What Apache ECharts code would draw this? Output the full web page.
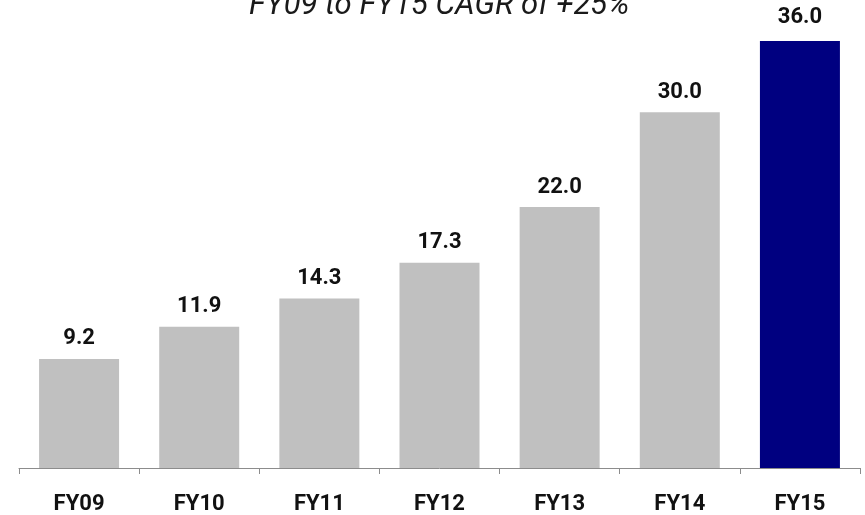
<!DOCTYPE html>
<html>
<head>
<meta charset="utf-8">
<script src="https://cdn.jsdelivr.net/npm/echarts@6/dist/echarts.min.js"></script>
<style>
  html, body { margin: 0; padding: 0; background: #fff; }
  #chart { width: 865px; height: 515px; }
</style>
</head>
<body>
<div id="chart"></div>
<script>
// Fiscal years and values
const categories = ['FY09', 'FY10', 'FY11', 'FY12', 'FY13', 'FY14', 'FY15'];
const values = [9.2, 11.9, 14.3, 17.3, 22.0, 30.0, 36.0];
const titleText = 'FY09 to FY15 CAGR of +25%';

const gray = '#c0c0c0';
const navy = '#000080';
const fontFamily = 'Roboto, "DejaVu Sans", sans-serif';

const chart = echarts.init(document.getElementById('chart'));
chart.setOption({
  animation: false,
  title: {
    text: titleText,
    left: 244,
    top: -14,
    textStyle: {
      fontFamily: fontFamily,
      fontStyle: 'italic',
      fontWeight: 'normal',
      fontSize: 31,
      color: '#1a1a1a'
    }
  },
  grid: { left: 19, right: 5, top: 41, bottom: 44 },
  xAxis: {
    type: 'category',
    data: categories,
    axisLine: { lineStyle: { color: '#8c8c8c', width: 1 } },
    axisTick: { show: true, length: 6, lineStyle: { color: '#8c8c8c' } },
    axisLabel: {
      margin: 25,
      fontFamily: fontFamily,
      fontWeight: 'bold',
      fontSize: 22,
      color: '#111'
    }
  },
  yAxis: {
    type: 'value',
    min: 0,
    max: 36,
    show: false,
    splitLine: { show: false }
  },
  series: [{
    type: 'bar',
    barWidth: 80,
    data: values.map((v, i) => {
      const last = i === values.length - 1;
      return {
        value: v,
        itemStyle: { color: last ? navy : gray },
        label: { distance: last ? 13 : 9 }
      };
    }),
    label: {
      show: true,
      position: 'top',
      formatter: p => p.value.toFixed(1),
      fontFamily: fontFamily,
      fontWeight: 'bold',
      fontSize: 22,
      color: '#111'
    }
  }]
});
</script>
</body>
</html>
